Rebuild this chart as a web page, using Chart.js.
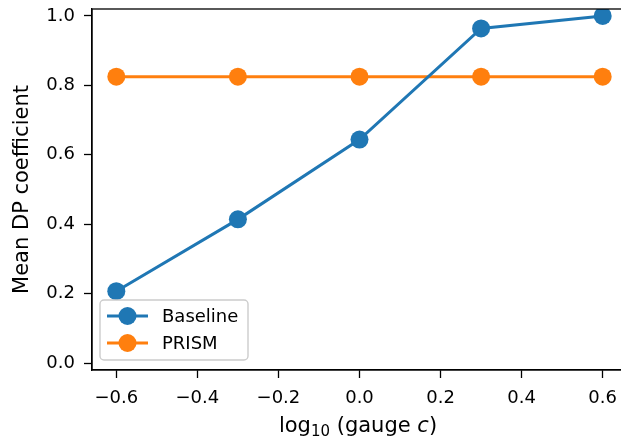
<!DOCTYPE html>
<html>
<head>
<meta charset="utf-8">
<script src="https://cdn.jsdelivr.net/npm/chart.js@4.4.1/dist/chart.umd.min.js"></script>
<style>
  html, body { margin: 0; padding: 0; background: #fff; overflow: hidden; }
  #wrap { position: relative; width: 621px; height: 440px; overflow: hidden; }
  #chart { position: absolute; left: 0; top: 0; }
</style>
</head>
<body>
<div id="wrap"><canvas id="chart" width="640" height="440"></canvas></div>
<script>
const logGauge = [-0.6, -0.3, 0.0, 0.3, 0.6];
const baseline = [0.207, 0.414, 0.644, 0.964, 1.0];
const prism = [0.825, 0.825, 0.825, 0.825, 0.825];
const xTicks = [-0.6, -0.4, -0.2, 0.0, 0.2, 0.4, 0.6];
const yTicks = [0.0, 0.2, 0.4, 0.6, 0.8, 1.0];

const FONT = "'DejaVu Sans', sans-serif";
const blue = "#1f77b4";
const orange = "#ff7f0e";

Chart.defaults.font.family = FONT;
Chart.defaults.font.size = 18;
Chart.defaults.color = "#000";

function fmt(v) {
  const s = Math.abs(v).toFixed(1);
  return v < -1e-9 ? "\u2212" + s : s;
}

// box, axis titles and legend in matplotlib style
const decorations = {
  id: "decorations",
  afterDatasetsDraw(chart) {
    const { ctx, chartArea: a } = chart;
    ctx.save();
    ctx.strokeStyle = "#000";
    ctx.lineWidth = 1.3;
    ctx.strokeRect(a.left, a.top, a.right - a.left, a.bottom - a.top);

    // legend
    const lx = 100, ly = 300, lw = 148, lh = 60;
    ctx.beginPath();
    ctx.roundRect(lx, ly, lw, lh, 4);
    ctx.fillStyle = "rgba(255,255,255,0.8)";
    ctx.fill();
    ctx.strokeStyle = "#cccccc";
    ctx.lineWidth = 1.4;
    ctx.stroke();
    const rows = [
      { text: "Baseline", color: blue, y: 316 },
      { text: "PRISM", color: orange, y: 343 },
    ];
    ctx.font = "18px " + FONT;
    ctx.textBaseline = "middle";
    ctx.textAlign = "left";
    rows.forEach((r) => {
      ctx.strokeStyle = r.color;
      ctx.lineWidth = 3;
      ctx.beginPath();
      ctx.moveTo(107, r.y);
      ctx.lineTo(148, r.y);
      ctx.stroke();
      ctx.fillStyle = r.color;
      ctx.beginPath();
      ctx.arc(127.5, r.y, 9, 0, Math.PI * 2);
      ctx.fill();
      ctx.fillStyle = "#000";
      ctx.fillText(r.text, 162, r.y + 1);
    });

    // y title
    ctx.save();
    ctx.translate(23, (a.top + a.bottom) / 2);
    ctx.rotate(-Math.PI / 2);
    ctx.font = "21px " + FONT;
    ctx.textAlign = "center";
    ctx.textBaseline = "middle";
    ctx.fillStyle = "#000";
    ctx.fillText("Mean DP coefficient", 0, 0);
    ctx.restore();

    // x title: log10 (gauge c)
    const parts = [
      { t: "log", f: "21px " + FONT, dy: 0 },
      { t: "10", f: "15px " + FONT, dy: 4 },
      { t: " (gauge ", f: "21px " + FONT, dy: 0 },
      { t: "c", f: "oblique 21px " + FONT, dy: 0 },
      { t: ")", f: "21px " + FONT, dy: 0 },
    ];
    let total = 0;
    parts.forEach((p) => {
      ctx.font = p.f;
      p.w = ctx.measureText(p.t).width;
      total += p.w;
    });
    let x = 358 - total / 2;
    const base = 432;
    ctx.textAlign = "left";
    ctx.textBaseline = "alphabetic";
    ctx.fillStyle = "#000";
    parts.forEach((p) => {
      ctx.font = p.f;
      ctx.fillText(p.t, x, base + p.dy);
      x += p.w;
    });
    ctx.restore();
  },
};

new Chart(document.getElementById("chart"), {
  type: "line",
  data: {
    labels: logGauge,
    datasets: [
      {
        label: "Baseline",
        data: logGauge.map((x, i) => ({ x: x, y: baseline[i] })),
        borderColor: blue,
        backgroundColor: blue,
        borderWidth: 3,
        pointRadius: 9,
        pointHoverRadius: 9,
        pointBorderWidth: 0,
        tension: 0,
      },
      {
        label: "PRISM",
        data: logGauge.map((x, i) => ({ x: x, y: prism[i] })),
        borderColor: orange,
        backgroundColor: orange,
        borderWidth: 3,
        pointRadius: 9,
        pointHoverRadius: 9,
        pointBorderWidth: 0,
        tension: 0,
      },
    ],
  },
  options: {
    responsive: false,
    animation: false,
    devicePixelRatio: 1,
    layout: { padding: { top: 8, right: 13, left: 0, bottom: 0 } },
    plugins: {
      legend: { display: false },
      tooltip: { enabled: false },
    },
    scales: {
      x: {
        type: "linear",
        min: -0.66,
        max: 0.66,
        afterBuildTicks: (scale) => {
          scale.ticks = xTicks.map((v) => ({ value: v }));
        },
        afterFit: (scale) => {
          scale.height = 70;
          scale.paddingLeft = 0;
          scale.paddingRight = 0;
        },
        ticks: {
          callback: (v) => fmt(v),
          color: "#000",
          font: { size: 18 },
          padding: 10,
          maxRotation: 0,
          autoSkip: false,
        },
        grid: {
          drawOnChartArea: false,
          drawTicks: true,
          tickLength: 8,
          tickColor: "#000",
          tickWidth: 1.3,
        },
        border: { display: true, color: "#000", width: 1.3 },
      },
      y: {
        type: "linear",
        min: -0.02,
        max: 1.02,
        afterBuildTicks: (scale) => {
          scale.ticks = yTicks.map((v) => ({ value: v }));
        },
        afterFit: (scale) => {
          scale.width = 92;
          scale.paddingTop = 0;
          scale.paddingBottom = 0;
        },
        ticks: {
          callback: (v) => fmt(v),
          color: "#000",
          font: { size: 18 },
          padding: 9,
          autoSkip: false,
        },
        grid: {
          drawOnChartArea: false,
          drawTicks: true,
          tickLength: 8,
          tickColor: "#000",
          tickWidth: 1.3,
        },
        border: { display: true, color: "#000", width: 1.3 },
      },
    },
  },
  plugins: [decorations],
});
</script>
</body>
</html>
